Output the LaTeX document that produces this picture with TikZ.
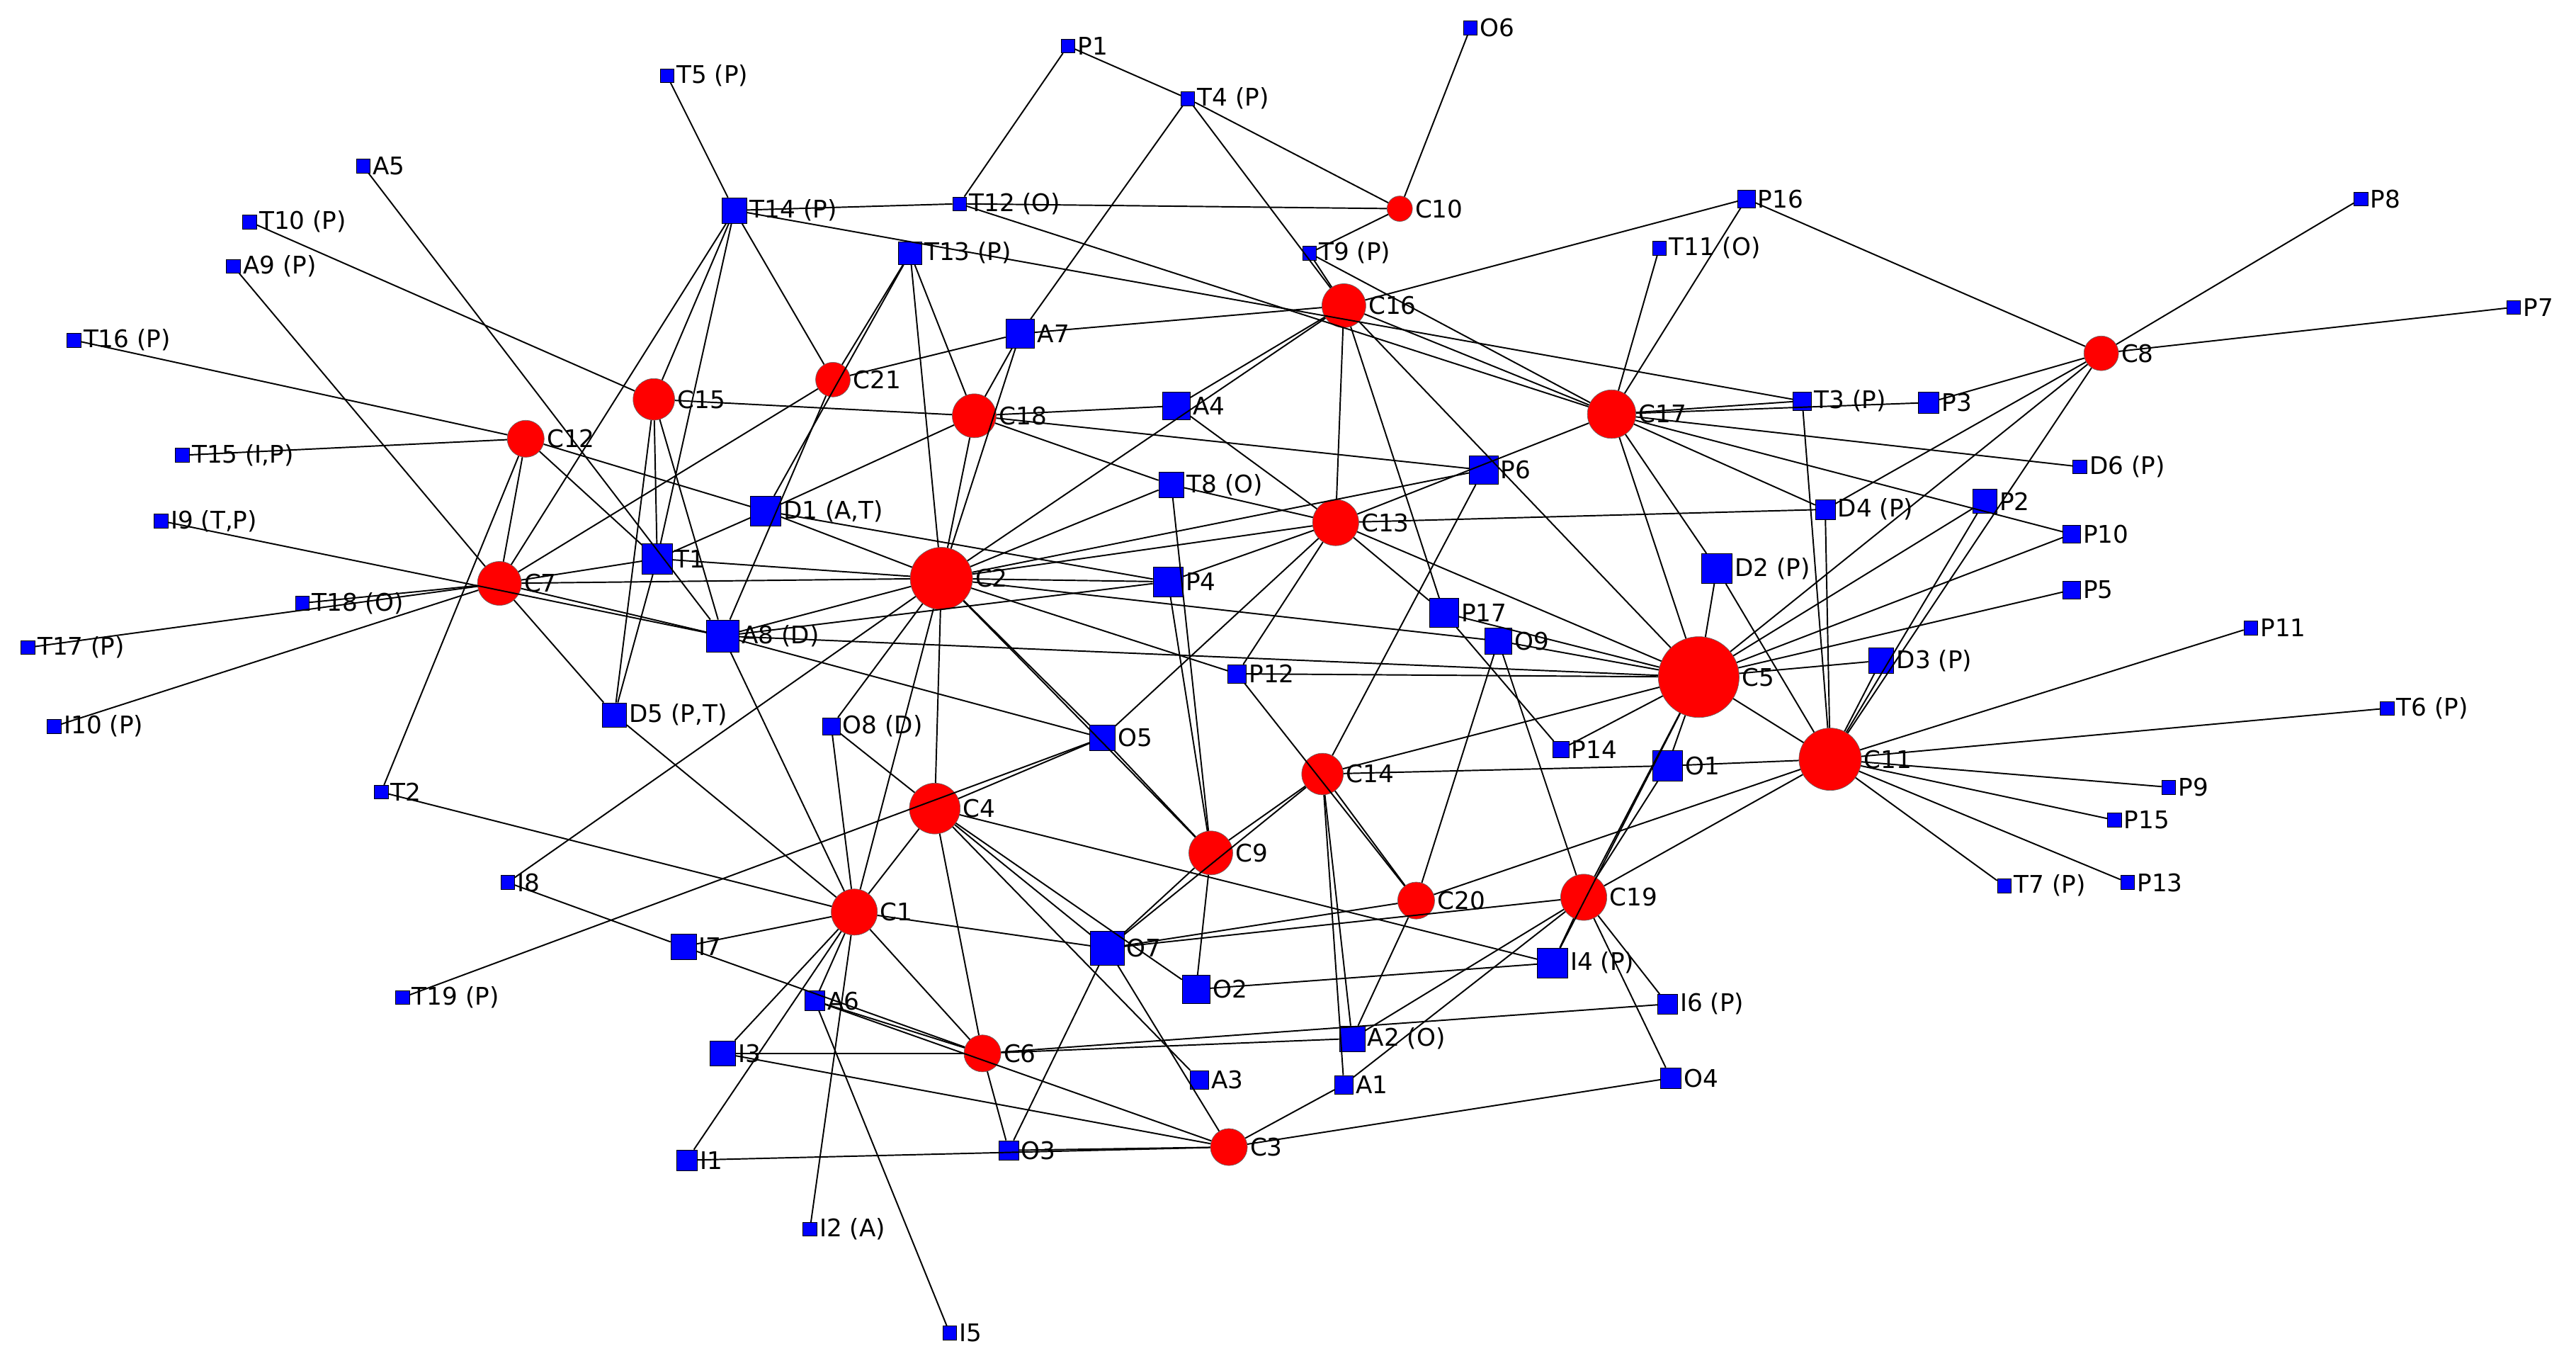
\documentclass[tikz,border=0pt]{standalone}
\usepackage{fontspec}
\setmainfont{DejaVu Sans}
\tikzset{
  sq/.style={shape=rectangle,fill=blue,draw=black,inner sep=0pt,minimum size=#1},
  sq/.default=12,
  cr/.style={shape=circle,fill=red,draw=black!60,inner sep=0pt,minimum size=#1},
  lbl/.style={font=\fontsize{21}{24}\selectfont,inner sep=2pt},
  link/.style={draw=black,line width=1.2pt},
}
\begin{document}
\begin{tikzpicture}[x=0.05cm,y=-0.05cm,every label/.style={lbl}]
    \useasboundingbox (0,0) rectangle (1568,828);
    % squares
    \node[sq,label=right:P1] (P1) at (650,28) {};
    \node[sq,label=right:O6] (O6) at (895,17) {};
    \node[sq,label=right:T4 (P)] (T4) at (723,60) {};
    \node[sq,label=right:T5 (P)] (T5) at (406,46) {};
    \node[sq,label=right:A5] (A5) at (221,101) {};
    \node[sq,label=right:T10 (P)] (T10) at (152,135) {};
    \node[sq,label=right:A9 (P)] (A9) at (142,162) {};
    \node[sq=22,label=right:T14 (P)] (T14) at (447,128) {};
    \node[sq,label=right:T12 (O)] (T12) at (584,124) {};
    \node[sq=20,label=right:T13 (P)] (T13) at (554,154) {};
    \node[sq,label=right:T9 (P)] (T9) at (797,154) {};
    \node[sq=15,label=right:P16] (P16) at (1063,121) {};
    \node[sq,label=right:T11 (O)] (T11) at (1010,151) {};
    \node[sq,label=right:P8] (P8) at (1437,121) {};
    \node[sq,label=right:P7] (P7) at (1530,187) {};
    \node[sq,label=right:T16 (P)] (T16) at (45,207) {};
    \node[sq=25,label=right:A7] (A7) at (621,203) {};
    \node[sq=24,label=right:A4] (A4) at (716,247) {};
    \node[sq=16,label=right:T3 (P)] (T3) at (1097,244) {};
    \node[sq=18,label=right:P3] (P3) at (1174,245) {};
    \node[sq,label={right:T15 (I,P)}] (T15) at (111,277) {};
    \node[sq=25,label=right:P6] (P6) at (903,286) {};
    \node[sq,label=right:D6 (P)] (D6) at (1266,284) {};
    \node[sq=22,label=right:T8 (O)] (T8) at (713,295) {};
    \node[sq=26,label={right:D1 (A,T)}] (D1) at (466,311) {};
    \node[sq=17,label=right:D4 (P)] (D4) at (1111,310) {};
    \node[sq=21,label=right:P2] (P2) at (1208,305) {};
    \node[sq,label={right:I9 (T,P)}] (I9) at (98,317) {};
    \node[sq=15,label=right:P10] (P10) at (1261,325) {};
    \node[sq=26,label=right:T1] (T1) at (400,340) {};
    \node[sq=26,label=right:P4] (P4) at (711,354) {};
    \node[sq=26,label=right:D2 (P)] (D2) at (1045,346) {};
    \node[sq=15,label=right:P5] (P5) at (1261,359) {};
    \node[sq,label=right:T18 (O)] (T18) at (184,367) {};
    \node[sq,label=right:T17 (P)] (T17) at (17,394) {};
    \node[sq=28,label=right:A8 (D)] (A8) at (440,387) {};
    \node[sq=25,label=right:P17] (P17) at (879,373) {};
    \node[sq=23,label=right:O9] (O9) at (912,390) {};
    \node[sq,label=right:P11] (P11) at (1370,382) {};
    \node[sq=22,label=right:D3 (P)] (D3) at (1145,402) {};
    \node[sq=16,label=right:P12] (P12) at (753,410) {};
    \node[sq=21,label={right:D5 (P,T)}] (D5) at (374,435) {};
    \node[sq=15,label=right:O8 (D)] (O8) at (506,442) {};
    \node[sq=22,label=right:O5] (O5) at (671,449) {};
    \node[sq,label=right:I10 (P)] (I10) at (33,442) {};
    \node[sq=14,label=right:P14] (P14) at (950,456) {};
    \node[sq=26,label=right:O1] (O1) at (1015,466) {};
    \node[sq,label=right:T6 (P)] (T6) at (1453,431) {};
    \node[sq,label=right:T2] (T2) at (232,482) {};
    \node[sq,label=right:P9] (P9) at (1320,479) {};
    \node[sq,label=right:P15] (P15) at (1287,499) {};
    \node[sq,label=right:T7 (P)] (T7) at (1220,539) {};
    \node[sq,label=right:P13] (P13) at (1295,537) {};
    \node[sq,label=right:I8] (I8) at (309,537) {};
    \node[sq=22,label=right:I7] (I7) at (416,576) {};
    \node[sq=29,label=right:O7] (O7) at (674,577) {};
    \node[sq=26,label=right:I4 (P)] (I4) at (945,586) {};
    \node[sq=17,label=right:A6] (A6) at (496,609) {};
    \node[sq,label=right:T19 (P)] (T19) at (245,607) {};
    \node[sq=24,label=right:O2] (O2) at (728,602) {};
    \node[sq=17,label=right:I6 (P)] (I6) at (1015,611) {};
    \node[sq=22,label=right:I3] (I3) at (440,641) {};
    \node[sq=22,label=right:A2 (O)] (A2) at (823,632) {};
    \node[sq=18,label=right:O4] (O4) at (1017,656) {};
    \node[sq=16,label=right:A3] (A3) at (730,657) {};
    \node[sq=16,label=right:A1] (A1) at (818,660) {};
    \node[sq=17,label=right:O3] (O3) at (614,700) {};
    \node[sq=18,label=right:I1] (I1) at (418,706) {};
    \node[sq,label=right:I2 (A)] (I2) at (493,748) {};
    \node[sq,label=right:I5] (I5) at (578,811) {};
    % circles
    \node[cr=22,label=right:C10] (C10) at (852,127) {};
    \node[cr=38,label=right:C16] (C16) at (818,186) {};
    \node[cr=30,label=right:C8] (C8) at (1279,215) {};
    \node[cr=36,label=right:C15] (C15) at (398,243) {};
    \node[cr=30,label=right:C21] (C21) at (507,231) {};
    \node[cr=38,label=right:C18] (C18) at (593,253) {};
    \node[cr=42,label=right:C17] (C17) at (981,252) {};
    \node[cr=32,label=right:C12] (C12) at (320,267) {};
    \node[cr=40,label=right:C13] (C13) at (813,318) {};
    \node[cr=38,label=right:C7] (C7) at (304,355) {};
    \node[cr=54,label=right:C2] (C2) at (573,352) {};
    \node[cr=70,label=right:C5] (C5) at (1034,412) {};
    \node[cr=54,label=right:C11] (C11) at (1114,462) {};
    \node[cr=36,label=right:C14] (C14) at (805,471) {};
    \node[cr=44,label=right:C4] (C4) at (569,492) {};
    \node[cr=38,label=right:C9] (C9) at (737,519) {};
    \node[cr=40,label=right:C19] (C19) at (964,546) {};
    \node[cr=40,label=right:C1] (C1) at (520,555) {};
    \node[cr=32,label=right:C20] (C20) at (862,548) {};
    \node[cr=32,label=right:C6] (C6) at (598,641) {};
    \node[cr=32,label=right:C3] (C3) at (748,698) {};
    % links
    \foreach \a/\b in {P1/T12,P1/T4,T4/A7,T4/C10,T4/C16,O6/C10,T5/T14,A5/A8,
        T14/T12,T12/C10,T14/C15,T14/C21,T14/C7,T14/T1,T10/C15,A9/C7,T16/C12,
        T15/C12,I9/A8,T18/C7,T17/C7,I10/C7,C12/C7,C12/D1,C12/T1,C12/T2,
        C15/T1,C15/D5,C15/C18,C15/A8,C21/T13,C21/A7,C21/A8,C21/C7,T13/D1,T13/C2,
        A7/C16,A7/C18,A7/C2,C18/A4,C18/T13,C18/C2,C18/D1,C18/P6,C18/T8,
        C16/T9,C16/P16,C16/C2,C16/C13,C16/P17,C16/C17,C16/C5,C16/A4,
        C17/T11,C17/P16,C17/T3,C17/P3,C17/D6,C17/P10,C17/D2,C17/C13,C17/C5,
        C17/T12,C17/D4,C17/T9,T14/T3,P16/C8,C8/P8,C8/P7,C8/P3,C8/D4,C8/C11,
        C8/C5,C13/T8,C13/D4,C13/P4,C13/O5,C13/C2,C13/C5,C13/P17,C13/P12,
        C5/D2,C5/D3,C5/O9,C5/P17,C5/P5,C5/P2,C5/P10,C5/C11,C5/O1,C5/P14,
        C5/C14,C5/P12,C5/I4,C5/C19,C5/A8,C11/P11,C11/T6,C11/P9,C11/P15,
        C11/T7,C11/P13,C11/D3,C11/P2,C11/D4,C11/T3,C11/C20,C11/O1,C11/C19,
        C11/D2,C2/D1,C2/T1,C2/C7,C2/A8,C2/O8,C2/C4,C2/C1,C2/P4,C2/T8,
        C2/P12,C2/O5,C2/C9,C7/T1,C7/A8,C7/D5,T1/D5,T1/D1,A8/O5,A8/P4,
        C4/O8,C4/C1,C4/O7,C4/O2,C4/C6,C4/O5,C4/I4,C1/A8,C1/D5,C1/I7,
        C1/A6,C1/I3,C1/C6,C1/O8,C1/O7,C1/T2,C1/I1,C1/I2,C9/P4,C9/O2,C9/O7,
        C9/C14,C9/T8,C9/O5,C14/A2,C14/A1,C14/C20,C14/O1,C14/O7,C20/O9,
        C20/O7,C20/A2,C20/P12,C19/O1,C19/I4,C19/O7,C19/A2,C19/O4,C19/I6,
        C19/O9,C19/A1,C6/A6,C6/I7,C6/A2,C6/I6,C6/O3,C6/I3,C3/I3,C3/I1,C3/O3,
        C3/A1,C3/O4,C3/O7,C3/A6,I5/A6,T19/O5,I8/I7,I8/C2,O3/O7,A3/C4,O2/I4,
        P6/C2,P6/C14,D1/P4,P17/P14,O9/C2,A4/C13,C10/T9}
        \path [link] (\a) edge (\b);
\end{tikzpicture}
\end{document}
